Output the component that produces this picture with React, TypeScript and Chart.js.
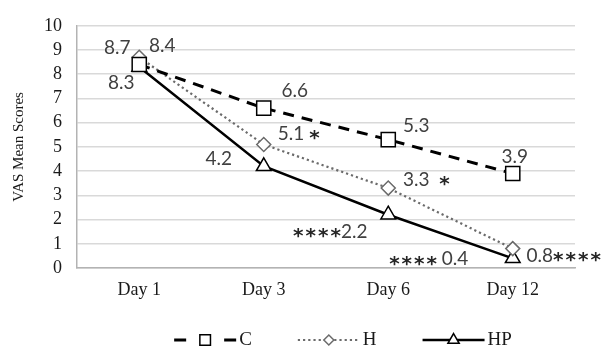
import React, { useEffect, useRef } from "react";
import { Chart, registerables } from "chart.js";
import { drawPoint } from "chart.js/helpers";

Chart.register(...registerables);

// ---- data ----
const CATEGORIES = ["Day 1", "Day 3", "Day 6", "Day 12"];
const SERIES_NAMES = ["C", "H", "HP"];
const C_VALUES = [8.4, 6.6, 5.3, 3.9];
const H_VALUES = [8.7, 5.1, 3.3, 0.8];
const HP_VALUES = [8.3, 4.2, 2.2, 0.4];
const C_LABELS = ["8.4", "6.6", "5.3", "3.9"];
const H_LABELS = ["8.7", "5.1 *", "3.3  *", "0.8****"];
const HP_LABELS = ["8.3", "4.2", "****2.2", "**** 0.4"];
const Y_MIN = 0;
const Y_MAX = 10;
const Y_STEP = 1;
const Y_TITLE = "VAS Mean Scores";

// ---- styling (label placement relative to each point, in px) ----
const LABEL_OFFSETS: number[][][] = [
  [[23, -19], [31, -17], [28, -14], [2, -17]],
  [[-22, -9], [35, -11], [38, -8], [51, 7]],
  [[-18, 16], [-45, -7], [-58, 17], [-84, 1]],
];
const SERIF = "'Liberation Serif', 'Times New Roman', serif";
const SANS = "Lato, 'Open Sans', sans-serif";
const LABEL_FONT = `19px ${SANS}`;
const STAR_FONT = `bold 20px 'DejaVu Sans', sans-serif`;

const STYLES = [
  { color: "#000000", width: 3, dash: [11, 8], pointStyle: "rect", radius: 10, pointBorder: "#000000", legendRadius: 7.5 },
  { color: "#6b6b6b", width: 2.2, dash: [2.2, 3], pointStyle: "rectRot", radius: 7, pointBorder: "#6b6b6b", legendRadius: 5 },
  { color: "#000000", width: 2.5, dash: [] as number[], pointStyle: "triangle", radius: 8.5, pointBorder: "#000000", legendRadius: 6.5 },
];

function drawLabel(ctx: CanvasRenderingContext2D, text: string, cx: number, cy: number) {
  const parts = text.split(/(\*+)/).filter((p) => p.length > 0);
  const measure = (p: string) => {
    if (p[0] === "*") {
      ctx.font = STAR_FONT;
      return ctx.measureText("*").width * p.length + 2 * (p.length - 1);
    }
    ctx.font = LABEL_FONT;
    return ctx.measureText(p).width;
  };
  const widths = parts.map(measure);
  const total = widths.reduce((a, b) => a + b, 0);
  let x = cx - total / 2;
  ctx.textAlign = "left";
  ctx.textBaseline = "middle";
  parts.forEach((p, k) => {
    if (p[0] === "*") {
      ctx.font = STAR_FONT;
      ctx.fillStyle = "#262626";
      const w = ctx.measureText("*").width;
      for (let s = 0; s < p.length; s++) {
        ctx.fillText("*", x + s * (w + 2), cy + 5);
      }
    } else {
      ctx.font = LABEL_FONT;
      ctx.fillStyle = "#404040";
      ctx.fillText(p, x, cy);
    }
    x += widths[k];
  });
}

const labelPlugin = {
  id: "valueLabels",
  afterDatasetsDraw(chart: any) {
    const ctx = chart.ctx;
    const all = [C_LABELS, H_LABELS, HP_LABELS];
    ctx.save();
    all.forEach((labels, i) => {
      const meta = chart.getDatasetMeta(i);
      labels.forEach((t, j) => {
        const el = meta.data[j];
        if (!el) return;
        const [dx, dy] = LABEL_OFFSETS[i][j];
        drawLabel(ctx, t, el.x + dx, el.y + dy);
      });
    });
    ctx.restore();
  },
};

const legendPlugin = {
  id: "customLegend",
  afterDraw(chart: any) {
    const ctx = chart.ctx;
    const area = chart.chartArea;
    ctx.save();
    ctx.font = `19px ${SERIF}`;
    const sampleW = 62;
    const textGap = 3;
    const itemGap = 46;
    const widths = SERIES_NAMES.map((n) => sampleW + textGap + ctx.measureText(n).width);
    const total = widths.reduce((a, b) => a + b, 0) + itemGap * (widths.length - 1);
    let x = (area.left + area.right) / 2 + 17 - total / 2;
    const y = 340;
    SERIES_NAMES.forEach((name, i) => {
      const s = STYLES[i];
      ctx.save();
      ctx.strokeStyle = s.color;
      ctx.lineWidth = s.width;
      if (i === 0) ctx.setLineDash([12, 38]);
      else ctx.setLineDash(s.dash);
      ctx.beginPath();
      ctx.moveTo(x, y);
      ctx.lineTo(x + sampleW, y);
      ctx.stroke();
      ctx.setLineDash([]);
      ctx.fillStyle = "#ffffff";
      ctx.strokeStyle = s.pointBorder;
      ctx.lineWidth = 1.5;
      drawPoint(ctx, { pointStyle: s.pointStyle, radius: s.legendRadius, borderWidth: 1.5, rotation: 0 } as any, x + sampleW / 2, y);
      ctx.restore();
      ctx.fillStyle = "#1a1a1a";
      ctx.textAlign = "left";
      ctx.textBaseline = "middle";
      ctx.fillText(name, x + sampleW + textGap, y);
      x += widths[i] + itemGap;
    });
    ctx.restore();
  },
};

export default function App() {
  const ref = useRef<HTMLCanvasElement | null>(null);
  useEffect(() => {
    if (!ref.current) return;
    const values = [C_VALUES, H_VALUES, HP_VALUES];
    const chart = new Chart(ref.current, {
      type: "line",
      data: {
        labels: CATEGORIES,
        datasets: SERIES_NAMES.map((name, i) => ({
          label: name,
          data: values[i],
          borderColor: STYLES[i].color,
          borderWidth: STYLES[i].width,
          borderDash: STYLES[i].dash,
          tension: 0,
          fill: false,
          pointStyle: STYLES[i].pointStyle as any,
          pointRadius: STYLES[i].radius,
          pointHoverRadius: STYLES[i].radius,
          pointBackgroundColor: "#ffffff",
          pointBorderColor: STYLES[i].pointBorder,
          pointBorderWidth: 1.5,
        })),
      },
      options: {
        animation: false,
        responsive: false,
        layout: { padding: { top: 20, right: 38, bottom: 0, left: 0 } },
        plugins: {
          legend: { display: false },
          tooltip: { enabled: false },
        },
        scales: {
          x: {
            offset: true,
            grid: { display: false, drawTicks: false },
            border: { display: true, color: "#b3b3b3", width: 1.5 },
            ticks: { color: "#1a1a1a", font: { family: SERIF, size: 18 }, padding: 11, maxRotation: 0, autoSkip: false },
            afterFit: (s: any) => { s.height = 82; },
          },
          y: {
            min: Y_MIN,
            max: Y_MAX,
            ticks: { stepSize: Y_STEP, color: "#1a1a1a", font: { family: SERIF, size: 18 }, padding: 15, autoSkip: false },
            grid: { color: "#d9d9d9", lineWidth: 1.5, drawTicks: false },
            border: { display: true, color: "#b3b3b3", width: 1.5 },
            title: {
              display: true,
              text: Y_TITLE,
              color: "#1a1a1a",
              font: { family: SERIF, size: 15 },
              padding: { top: 10, bottom: 0 },
            },
            afterFit: (s: any) => { s.width = 77; },
          },
        },
      },
      plugins: [labelPlugin, legendPlugin],
    });
    return () => chart.destroy();
  }, []);
  return (
    <div style={{ position: "fixed", left: 0, top: 0, width: 613, height: 350, background: "#ffffff" }}>
      <canvas ref={ref} width={613} height={350} style={{ display: "block" }} />
    </div>
  );
}
